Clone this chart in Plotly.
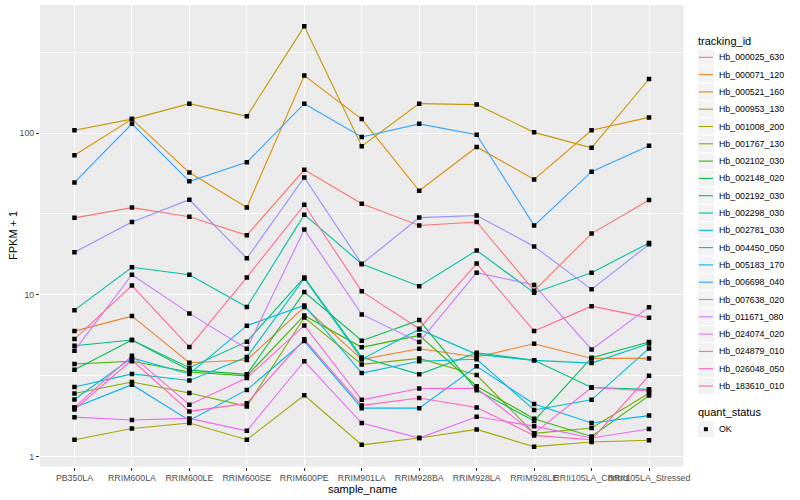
import plotly.graph_objects as go

categories = ["PB350LA", "RRIM600LA", "RRIM600LE", "RRIM600SE", "RRIM600PE", "RRIM901LA",
              "RRIM928BA", "RRIM928LA", "RRIM928LE", "RRII105LA_Control", "RRII105LA_Stressed"]

Hb_000025_630 = [29.9, 34.6, 30.4, 23.3, 59.3, 36.6, 26.8, 28.2, 10.6, 23.9, 38.6]
Hb_000071_120 = [5.96, 7.38, 3.80, 3.95, 8.4, 3.99, 4.64, 4.12, 4.98, 4.04, 4.04]
Hb_000521_160 = [73, 122, 57, 34.7, 227, 122, 44, 82, 51.7, 104, 125]
Hb_000953_130 = [104, 122, 152, 127, 457, 83, 152, 150, 101, 81, 216]
Hb_001008_200 = [1.27, 1.49, 1.61, 1.27, 2.39, 1.18, 1.30, 1.47, 1.15, 1.23, 1.26]
Hb_001767_130 = [2.45, 2.89, 2.47, 2.04, 7.24, 3.71, 4.04, 3.19, 1.39, 1.50, 2.46]
Hb_002102_030 = [3.73, 3.88, 3.33, 3.15, 7.45, 4.73, 5.61, 2.72, 1.71, 1.33, 2.38]
Hb_002148_020 = [3.44, 5.25, 3.42, 3.22, 10.4, 5.20, 6.97, 2.57, 1.66, 4.08, 5.10]
Hb_002192_030 = [4.84, 5.25, 3.54, 5.13, 12.8, 4.1, 3.22, 4.38, 3.93, 2.67, 2.60]
Hb_002298_030 = [8.03, 14.8, 13.3, 8.4, 31.3, 15.5, 11.3, 18.8, 10.3, 13.7, 20.9]
Hb_002781_030 = [2.69, 3.24, 2.95, 4.12, 12.6, 4.0, 6.1, 4.28, 3.93, 3.78, 5.0]
Hb_004450_050 = [2.25, 4.07, 3.24, 6.44, 8.59, 3.28, 3.88, 3.99, 1.94, 2.24, 4.66]
Hb_005183_170 = [2.01, 2.78, 1.67, 2.58, 5.17, 1.99, 1.99, 3.61, 2.11, 1.61, 1.79]
Hb_006698_040 = [49.5, 114, 50.3, 66, 152, 94.5, 114, 97.6, 26.8, 57.7, 83.5]
Hb_007638_020 = [18.3, 28.2, 38.7, 16.8, 53.2, 15.5, 30, 30.9, 19.9, 10.8, 20.5]
Hb_011671_080 = [4.51, 13.3, 7.67, 4.64, 25.3, 7.56, 5.10, 13.7, 11.5, 4.59, 8.38]
Hb_024074_020 = [1.75, 1.68, 1.72, 1.44, 3.88, 1.61, 1.30, 1.76, 1.54, 1.30, 1.48]
Hb_024879_010 = [2.01, 4.2, 2.09, 3.06, 6.46, 2.24, 2.63, 2.64, 1.39, 2.67, 2.54]
Hb_026048_050 = [1.95, 3.95, 1.90, 2.13, 5.30, 2.07, 2.30, 2.01, 1.35, 1.27, 3.16]
Hb_183610_010 = [5.32, 11.4, 4.75, 12.8, 36, 10.5, 6.17, 15.6, 5.96, 8.5, 7.2]

series = [
    ("Hb_000025_630", Hb_000025_630), ("Hb_000071_120", Hb_000071_120),
    ("Hb_000521_160", Hb_000521_160), ("Hb_000953_130", Hb_000953_130),
    ("Hb_001008_200", Hb_001008_200), ("Hb_001767_130", Hb_001767_130),
    ("Hb_002102_030", Hb_002102_030), ("Hb_002148_020", Hb_002148_020),
    ("Hb_002192_030", Hb_002192_030), ("Hb_002298_030", Hb_002298_030),
    ("Hb_002781_030", Hb_002781_030), ("Hb_004450_050", Hb_004450_050),
    ("Hb_005183_170", Hb_005183_170), ("Hb_006698_040", Hb_006698_040),
    ("Hb_007638_020", Hb_007638_020), ("Hb_011671_080", Hb_011671_080),
    ("Hb_024074_020", Hb_024074_020), ("Hb_024879_010", Hb_024879_010),
    ("Hb_026048_050", Hb_026048_050), ("Hb_183610_010", Hb_183610_010),
]

colors = ["#F8766D", "#EA8331", "#D89000", "#C09B00", "#A3A500", "#7CAE00", "#39B600",
          "#00BB4E", "#00BF7D", "#00C1A3", "#00BFC4", "#00BAE0", "#00B0F6", "#35A2FF",
          "#9590FF", "#C77CFF", "#E76BF3", "#FA62DB", "#FF62BC", "#FF6C91"]

status_labels = ["OK"]

FONT = "Liberation Sans"
W, H = 800, 500
fig = go.Figure()

for i, (name, vals) in enumerate(series):
    fig.add_trace(go.Scatter(
        x=categories, y=vals, mode="lines", name=name,
        line=dict(color=colors[i], width=1.1), showlegend=False, hoverinfo="skip",
    ))

all_x, all_y = [], []
for name, vals in series:
    all_x += categories
    all_y += vals
fig.add_trace(go.Scatter(
    x=all_x, y=all_y, mode="markers", name=status_labels[0], showlegend=False,
    marker=dict(color="black", size=4.5, symbol="square"),
))

# ---- legend drawn in ggplot style (paper coordinates = pixels / size) ----
def px(x):
    return x / W

def py(y):
    return (H - y) / H

shapes, annotations = [], []
KEY_L, KEY_R, PITCH, FIRST = 697.3, 714.5, 17.3, 57.3
annotations.append(dict(text="tracking_id", xref="paper", yref="paper", x=px(696), y=py(40.7),
                        xanchor="left", yanchor="middle", showarrow=False,
                        font=dict(size=11, color="black", family=FONT)))
for i, (name, vals) in enumerate(series):
    cy = FIRST + PITCH * i
    shapes.append(dict(type="rect", xref="paper", yref="paper", x0=px(KEY_L), x1=px(KEY_R),
                       y0=py(cy - PITCH / 2), y1=py(cy + PITCH / 2),
                       fillcolor="#F2F2F2", line=dict(color="white", width=1), layer="below"))
    shapes.append(dict(type="line", xref="paper", yref="paper", x0=px(KEY_L + 1.5), x1=px(KEY_R - 1.5),
                       y0=py(cy), y1=py(cy), line=dict(color=colors[i], width=1.1)))
    annotations.append(dict(text=name, xref="paper", yref="paper", x=px(717), y=py(cy),
                            xanchor="left", yanchor="middle", showarrow=False,
                            font=dict(size=8.8, color="black", family=FONT)))

annotations.append(dict(text="quant_status", xref="paper", yref="paper", x=px(696), y=py(412.3),
                        xanchor="left", yanchor="middle", showarrow=False,
                        font=dict(size=11, color="black", family=FONT)))
for j, lab in enumerate(status_labels):
    cy = 429.2 + PITCH * j
    shapes.append(dict(type="rect", xref="paper", yref="paper", x0=px(KEY_L), x1=px(KEY_R),
                       y0=py(cy - PITCH / 2), y1=py(cy + PITCH / 2),
                       fillcolor="#F2F2F2", line=dict(color="white", width=1), layer="below"))
    kx = (KEY_L + KEY_R) / 2
    shapes.append(dict(type="rect", xref="paper", yref="paper", x0=px(kx - 2), x1=px(kx + 2),
                       y0=py(cy - 2), y1=py(cy + 2), fillcolor="black", line=dict(width=0)))
    annotations.append(dict(text=lab, xref="paper", yref="paper", x=px(717), y=py(cy),
                            xanchor="left", yanchor="middle", showarrow=False,
                            font=dict(size=8.8, color="black", family=FONT)))

annotations += [
    dict(text="sample_name", xref="paper", yref="paper", x=px(362), y=py(489),
         xanchor="center", yanchor="middle", showarrow=False,
         font=dict(size=11, color="black", family=FONT)),
    dict(text="FPKM + 1", xref="paper", yref="paper", x=px(13), y=py(236),
         xanchor="center", yanchor="middle", textangle=-90, showarrow=False,
         font=dict(size=11, color="black", family=FONT)),
]

fig.update_layout(
    width=W, height=H,
    margin=dict(l=0, r=0, t=0, b=0),
    paper_bgcolor="white", plot_bgcolor="#EBEBEB",
    font=dict(family=FONT, size=9, color="#4D4D4D"),
    showlegend=False,
    xaxis=dict(type="category", domain=[40 / W, 683.5 / W], automargin=False,
               showgrid=True, gridcolor="white", gridwidth=1.1,
               ticks="outside", ticklen=3, tickcolor="#333333", tickangle=0,
               tickfont=dict(size=8.8, color="#4D4D4D", family=FONT),
               showline=False, zeroline=False, range=[-0.6, 10.6]),
    yaxis=dict(type="log", domain=[33.5 / H, 495 / H], automargin=False,
               range=[-0.062, 2.792], tickvals=[1, 10, 100], ticktext=["1", "10", "100"],
               showgrid=True, gridcolor="white", gridwidth=1.1,
               ticks="outside", ticklen=3, tickcolor="#333333",
               tickfont=dict(size=8.8, color="#4D4D4D", family=FONT),
               minor=dict(tickvals=[0.316, 3.162, 31.62, 316.2], showgrid=True,
                          gridcolor="white", gridwidth=0.5, ticks=""),
               showline=False, zeroline=False),
    shapes=shapes,
    annotations=annotations,
)

fig.write_html("out.html", config={"displayModeBar": False},
               post_script="document.body.style.margin='0px';")
